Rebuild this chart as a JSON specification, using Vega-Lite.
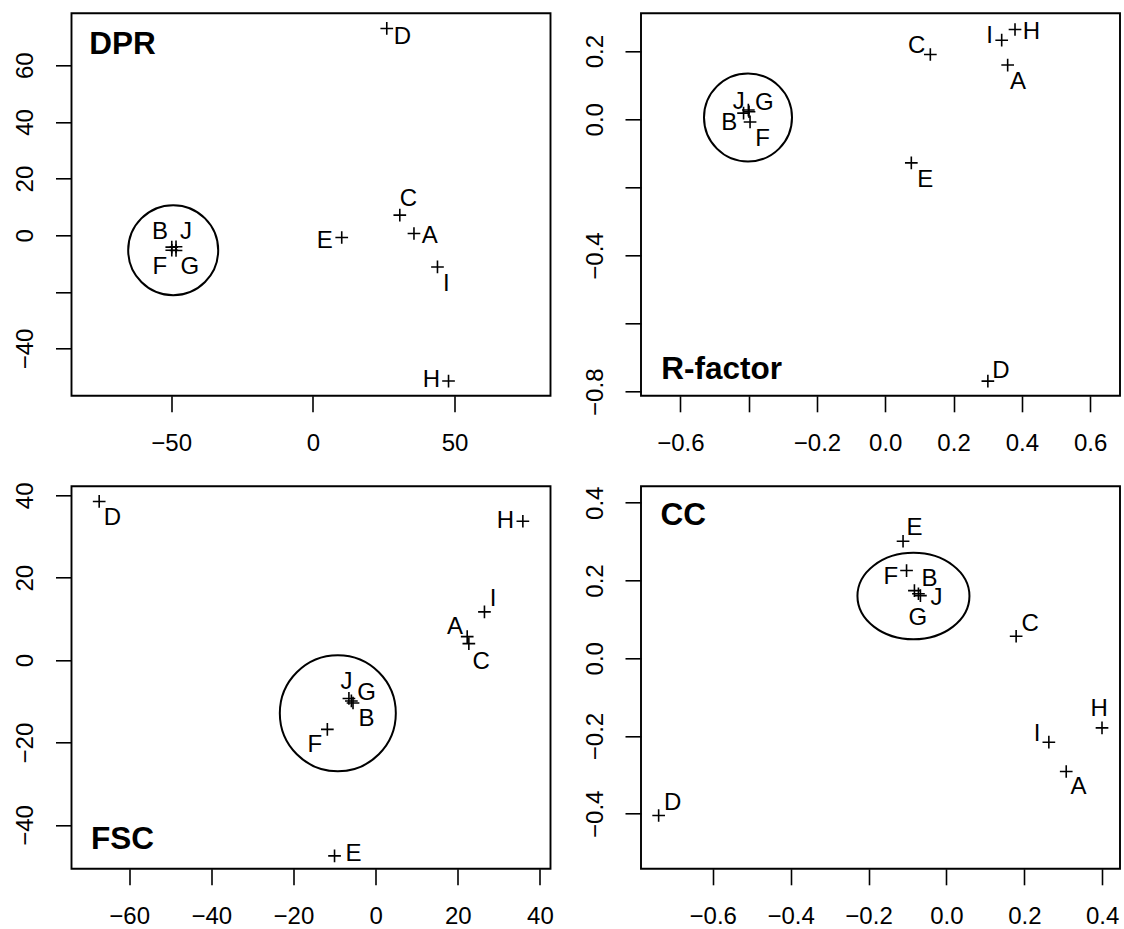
{
  "$schema": "https://vega.github.io/schema/vega-lite/v6.json",
  "autosize": {"type": "none"},
  "padding": {"left": 71.5, "top": 13.3, "right": 1052.5, "bottom": 915.7},
  "background": "white",
  "data": {"values": [
    {"panel":"DPR","kind":"point","id":"A","x":35.7,"y":0.6},
    {"panel":"DPR","kind":"point","id":"B","x":-49.8,"y":-4.2},
    {"panel":"DPR","kind":"point","id":"C","x":30.7,"y":7.1},
    {"panel":"DPR","kind":"point","id":"D","x":26.1,"y":73.0},
    {"panel":"DPR","kind":"point","id":"E","x":10.2,"y":-0.8},
    {"panel":"DPR","kind":"point","id":"F","x":-49.8,"y":-5.3},
    {"panel":"DPR","kind":"point","id":"G","x":-48.3,"y":-5.4},
    {"panel":"DPR","kind":"point","id":"H","x":47.9,"y":-51.5},
    {"panel":"DPR","kind":"point","id":"I","x":44.0,"y":-11.2},
    {"panel":"DPR","kind":"point","id":"J","x":-48.3,"y":-4.1},
    {"panel":"DPR","kind":"label","id":"A","x":41.3,"y":0.3},
    {"panel":"DPR","kind":"label","id":"B","x":-54.0,"y":1.8},
    {"panel":"DPR","kind":"label","id":"C","x":33.7,"y":13.3},
    {"panel":"DPR","kind":"label","id":"D","x":31.6,"y":70.6},
    {"panel":"DPR","kind":"label","id":"E","x":4.2,"y":-1.5},
    {"panel":"DPR","kind":"label","id":"F","x":-54.0,"y":-10.6},
    {"panel":"DPR","kind":"label","id":"G","x":-43.4,"y":-10.6},
    {"panel":"DPR","kind":"label","id":"H","x":41.9,"y":-50.6},
    {"panel":"DPR","kind":"label","id":"I","x":47.1,"y":-16.8},
    {"panel":"DPR","kind":"label","id":"J","x":-44.8,"y":1.8},
    {"panel":"DPR","kind":"ring","id":"cluster","x":-49.3,"y":-5.3},
    {"panel":"DPR","kind":"title","id":"DPR","x":-78.9,"y":64.1},

    {"panel":"R","kind":"point","id":"A","x":0.3585,"y":0.159},
    {"panel":"R","kind":"point","id":"B","x":-0.415,"y":0.018},
    {"panel":"R","kind":"point","id":"C","x":0.132,"y":0.19},
    {"panel":"R","kind":"point","id":"D","x":0.3005,"y":-0.769},
    {"panel":"R","kind":"point","id":"E","x":0.0763,"y":-0.128},
    {"panel":"R","kind":"point","id":"F","x":-0.396,"y":-0.008},
    {"panel":"R","kind":"point","id":"G","x":-0.399,"y":0.022},
    {"panel":"R","kind":"point","id":"H","x":0.38,"y":0.2635},
    {"panel":"R","kind":"point","id":"I","x":0.341,"y":0.232},
    {"panel":"R","kind":"point","id":"J","x":-0.401,"y":0.027},
    {"panel":"R","kind":"label","id":"A","x":0.389,"y":0.115},
    {"panel":"R","kind":"label","id":"B","x":-0.457,"y":-0.005},
    {"panel":"R","kind":"label","id":"C","x":0.092,"y":0.2195},
    {"panel":"R","kind":"label","id":"D","x":0.339,"y":-0.734},
    {"panel":"R","kind":"label","id":"E","x":0.117,"y":-0.174},
    {"panel":"R","kind":"label","id":"F","x":-0.359,"y":-0.053},
    {"panel":"R","kind":"label","id":"G","x":-0.354,"y":0.051},
    {"panel":"R","kind":"label","id":"H","x":0.428,"y":0.2615},
    {"panel":"R","kind":"label","id":"I","x":0.3055,"y":0.249},
    {"panel":"R","kind":"label","id":"J","x":-0.429,"y":0.054},
    {"panel":"R","kind":"ring","id":"cluster","x":-0.402,"y":0.005},
    {"panel":"R","kind":"title","id":"R-factor","x":-0.656,"y":-0.763},

    {"panel":"FSC","kind":"point","id":"A","x":22.3,"y":5.7},
    {"panel":"FSC","kind":"point","id":"B","x":-5.5,"y":-10.4},
    {"panel":"FSC","kind":"point","id":"C","x":22.7,"y":4.0},
    {"panel":"FSC","kind":"point","id":"D","x":-67.3,"y":38.5},
    {"panel":"FSC","kind":"point","id":"E","x":-10.0,"y":-47.5},
    {"panel":"FSC","kind":"point","id":"F","x":-11.75,"y":-16.8},
    {"panel":"FSC","kind":"point","id":"G","x":-5.9,"y":-9.9},
    {"panel":"FSC","kind":"point","id":"H","x":35.85,"y":33.7},
    {"panel":"FSC","kind":"point","id":"I","x":26.5,"y":11.7},
    {"panel":"FSC","kind":"point","id":"J","x":-6.5,"y":-9.3},
    {"panel":"FSC","kind":"label","id":"A","x":19.3,"y":8.5},
    {"panel":"FSC","kind":"label","id":"B","x":-2.2,"y":-13.9},
    {"panel":"FSC","kind":"label","id":"C","x":25.7,"y":0.0},
    {"panel":"FSC","kind":"label","id":"D","x":-64.1,"y":34.8},
    {"panel":"FSC","kind":"label","id":"E","x":-5.4,"y":-46.6},
    {"panel":"FSC","kind":"label","id":"F","x":-14.8,"y":-20.3},
    {"panel":"FSC","kind":"label","id":"G","x":-2.2,"y":-7.6},
    {"panel":"FSC","kind":"label","id":"H","x":31.6,"y":34.2},
    {"panel":"FSC","kind":"label","id":"I","x":28.6,"y":15.2},
    {"panel":"FSC","kind":"label","id":"J","x":-7.06,"y":-4.9},
    {"panel":"FSC","kind":"ring","id":"cluster","x":-9.2,"y":-12.9},
    {"panel":"FSC","kind":"title","id":"FSC","x":-69.3,"y":-45.8},

    {"panel":"CC","kind":"point","id":"A","x":0.3076,"y":-0.2914},
    {"panel":"CC","kind":"point","id":"B","x":-0.0822,"y":0.174},
    {"panel":"CC","kind":"point","id":"C","x":0.179,"y":0.0566},
    {"panel":"CC","kind":"point","id":"D","x":-0.739,"y":-0.4046},
    {"panel":"CC","kind":"point","id":"E","x":-0.1114,"y":0.301},
    {"panel":"CC","kind":"point","id":"F","x":-0.1024,"y":0.2256},
    {"panel":"CC","kind":"point","id":"G","x":-0.0719,"y":0.166},
    {"panel":"CC","kind":"point","id":"H","x":0.3995,"y":-0.179},
    {"panel":"CC","kind":"point","id":"I","x":0.263,"y":-0.216},
    {"panel":"CC","kind":"point","id":"J","x":-0.0668,"y":0.161},
    {"panel":"CC","kind":"label","id":"A","x":0.339,"y":-0.3275},
    {"panel":"CC","kind":"label","id":"B","x":-0.0436,"y":0.2084},
    {"panel":"CC","kind":"label","id":"C","x":0.215,"y":0.0926},
    {"panel":"CC","kind":"label","id":"D","x":-0.7032,"y":-0.3686},
    {"panel":"CC","kind":"label","id":"E","x":-0.082,"y":0.339},
    {"panel":"CC","kind":"label","id":"F","x":-0.1425,"y":0.2127},
    {"panel":"CC","kind":"label","id":"G","x":-0.0732,"y":0.108},
    {"panel":"CC","kind":"label","id":"H","x":0.392,"y":-0.1276},
    {"panel":"CC","kind":"label","id":"I","x":0.2326,"y":-0.19},
    {"panel":"CC","kind":"label","id":"J","x":-0.0257,"y":0.1595},
    {"panel":"CC","kind":"ring","id":"cluster","x":-0.0847,"y":0.16},
    {"panel":"CC","kind":"title","id":"CC","x":-0.734,"y":0.343}
  ]},
  "config": {
    "view": {"stroke": "black", "strokeWidth": 1.9, "fill": "white"},
    "axis": {"grid": false, "domain": false, "ticks": true, "tickColor": "black", "tickWidth": 1.6, "tickSize": 16,
             "labelFont": "Liberation Sans", "labelFontSize": 24, "labelColor": "black", "labelOverlap": false, "labelFlush": false},
    "axisX": {"labelPadding": 38.3, "labelBaseline": "alphabetic", "labelAngle": 0, "labelAlign": "center"},
    "axisY": {"labelPadding": 22.7, "labelAngle": -90, "labelAlign": "center", "labelBaseline": "alphabetic"},
    "text": {"font": "Liberation Sans", "color": "black"},
    "mark": {"color": "black"}
  },
  "columns": 2,
  "spacing": {"row": 90, "column": 90.5},
  "bounds": "flush",
  "concat": [
    {
      "width": 479, "height": 382.5,
      "transform": [{"filter": "datum.panel == 'DPR'"}],
      "encoding": {
        "x": {"field": "x", "type": "quantitative", "title": null,
              "scale": {"domain": [-85.2, 83.9], "nice": false, "zero": false},
              "axis": {"values": [-50, 0, 50], "format": "d"}},
        "y": {"field": "y", "type": "quantitative", "title": null,
              "scale": {"domain": [-56.7, 78.35], "nice": false, "zero": false},
              "axis": {"values": [-40, -20, 0, 20, 40, 60], "format": "d", "labelExpr": "datum.value == -20 ? '' : datum.label"}}
      },
      "layer": [
        {"transform": [{"filter": "datum.kind == 'ring'"}], "mark": {"type": "point", "shape": "circle", "size": 8100, "filled": false, "stroke": "black", "strokeWidth": 2, "opacity": 1}},
        {"transform": [{"filter": "datum.kind == 'point'"}], "mark": {"type": "point", "shape": "M-1,0L1,0M0,-1L0,1", "size": 161, "filled": false, "stroke": "black", "strokeWidth": 1.6, "opacity": 1}},
        {"transform": [{"filter": "datum.kind == 'label'"}], "mark": {"type": "text", "fontSize": 24, "align": "center", "baseline": "alphabetic", "dy": 8.6}, "encoding": {"text": {"field": "id"}}},
        {"transform": [{"filter": "datum.kind == 'title'"}], "mark": {"type": "text", "fontSize": 31.5, "fontWeight": "bold", "align": "left", "baseline": "alphabetic"}, "encoding": {"text": {"field": "id"}}}
      ]
    },
    {
      "width": 479, "height": 382.5,
      "transform": [{"filter": "datum.panel == 'R'"}],
      "encoding": {
        "x": {"field": "x", "type": "quantitative", "title": null,
              "scale": {"domain": [-0.7154, 0.6875], "nice": false, "zero": false},
              "axis": {"values": [-0.6, -0.4, -0.2, 0, 0.2, 0.4, 0.6], "format": ".1f", "labelExpr": "datum.value == -0.4 ? '' : datum.label"}},
        "y": {"field": "y", "type": "quantitative", "title": null,
              "scale": {"domain": [-0.812, 0.311], "nice": false, "zero": false},
              "axis": {"values": [-0.8, -0.6, -0.4, -0.2, 0, 0.2], "format": ".1f", "labelExpr": "(datum.value == -0.6 || datum.value == -0.2) ? '' : datum.label"}}
      },
      "layer": [
        {"transform": [{"filter": "datum.kind == 'ring'"}], "mark": {"type": "point", "shape": "circle", "size": 7744, "filled": false, "stroke": "black", "strokeWidth": 2, "opacity": 1}},
        {"transform": [{"filter": "datum.kind == 'point'"}], "mark": {"type": "point", "shape": "M-1,0L1,0M0,-1L0,1", "size": 161, "filled": false, "stroke": "black", "strokeWidth": 1.6, "opacity": 1}},
        {"transform": [{"filter": "datum.kind == 'label'"}], "mark": {"type": "text", "fontSize": 24, "align": "center", "baseline": "alphabetic", "dy": 8.6}, "encoding": {"text": {"field": "id"}}},
        {"transform": [{"filter": "datum.kind == 'title'"}], "mark": {"type": "text", "fontSize": 31.5, "fontWeight": "bold", "align": "left", "baseline": "alphabetic"}, "encoding": {"text": {"field": "id"}}}
      ]
    },
    {
      "width": 479, "height": 382.5,
      "transform": [{"filter": "datum.panel == 'FSC'"}],
      "encoding": {
        "x": {"field": "x", "type": "quantitative", "title": null,
              "scale": {"domain": [-74.04, 42.58], "nice": false, "zero": false},
              "axis": {"values": [-60, -40, -20, 0, 20, 40], "format": "d"}},
        "y": {"field": "y", "type": "quantitative", "title": null,
              "scale": {"domain": [-50.63, 42.18], "nice": false, "zero": false},
              "axis": {"values": [-40, -20, 0, 20, 40], "format": "d"}}
      },
      "layer": [
        {"transform": [{"filter": "datum.kind == 'ring'"}], "mark": {"type": "point", "shape": "circle", "size": 13456, "filled": false, "stroke": "black", "strokeWidth": 2, "opacity": 1}},
        {"transform": [{"filter": "datum.kind == 'point'"}], "mark": {"type": "point", "shape": "M-1,0L1,0M0,-1L0,1", "size": 161, "filled": false, "stroke": "black", "strokeWidth": 1.6, "opacity": 1}},
        {"transform": [{"filter": "datum.kind == 'label'"}], "mark": {"type": "text", "fontSize": 24, "align": "center", "baseline": "alphabetic", "dy": 8.6}, "encoding": {"text": {"field": "id"}}},
        {"transform": [{"filter": "datum.kind == 'title'"}], "mark": {"type": "text", "fontSize": 31.5, "fontWeight": "bold", "align": "left", "baseline": "alphabetic"}, "encoding": {"text": {"field": "id"}}}
      ]
    },
    {
      "width": 479, "height": 382.5,
      "transform": [{"filter": "datum.panel == 'CC'"}],
      "encoding": {
        "x": {"field": "x", "type": "quantitative", "title": null,
              "scale": {"domain": [-0.7843, 0.4457], "nice": false, "zero": false},
              "axis": {"values": [-0.6, -0.4, -0.2, 0, 0.2, 0.4], "format": ".1f"}},
        "y": {"field": "y", "type": "quantitative", "title": null,
              "scale": {"domain": [-0.5417, 0.4424], "nice": false, "zero": false},
              "axis": {"values": [-0.4, -0.2, 0, 0.2, 0.4], "format": ".1f"}}
      },
      "layer": [
        {"transform": [{"filter": "datum.kind == 'ring'"}], "mark": {"type": "point", "shape": "M-1,0A1,0.772,0,1,0,1,0A1,0.772,0,1,0,-1,0", "size": 12544, "filled": false, "stroke": "black", "strokeWidth": 2, "opacity": 1}},
        {"transform": [{"filter": "datum.kind == 'point'"}], "mark": {"type": "point", "shape": "M-1,0L1,0M0,-1L0,1", "size": 161, "filled": false, "stroke": "black", "strokeWidth": 1.6, "opacity": 1}},
        {"transform": [{"filter": "datum.kind == 'label'"}], "mark": {"type": "text", "fontSize": 24, "align": "center", "baseline": "alphabetic", "dy": 8.6}, "encoding": {"text": {"field": "id"}}},
        {"transform": [{"filter": "datum.kind == 'title'"}], "mark": {"type": "text", "fontSize": 31.5, "fontWeight": "bold", "align": "left", "baseline": "alphabetic"}, "encoding": {"text": {"field": "id"}}}
      ]
    }
  ]
}
